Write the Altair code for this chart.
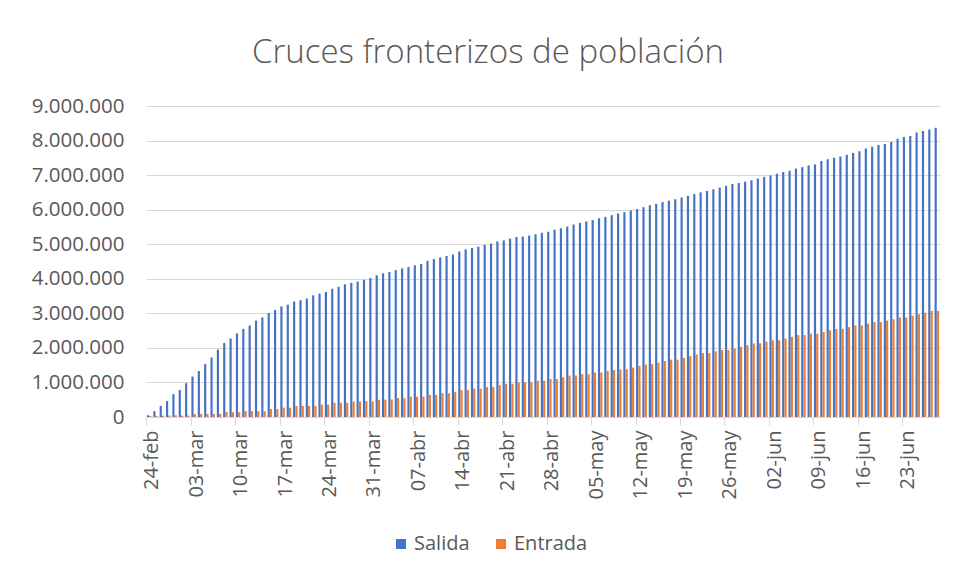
import altair as alt
import pandas as pd

# Categories: one per day, 24-feb to 28-jun (2022)
MESES = {2: "feb", 3: "mar", 4: "abr", 5: "may", 6: "jun"}
dias = [f"{d.day:02d}-{MESES[d.month]}" for d in pd.date_range("2022-02-24", "2022-06-28")]
etiquetas = dias[::7]

series = ["Salida", "Entrada"]
colores = ["#4472C4", "#ED7D31"]

# Cumulative values, millions
salida = [
    0.05, 0.17, 0.32, 0.46, 0.66, 0.78, 0.98, 1.17, 1.33, 1.53, 1.72, 1.95, 2.14, 2.27, 2.42, 2.55,
    2.65, 2.79, 2.88, 3.01, 3.10, 3.20, 3.25, 3.34, 3.38, 3.43, 3.52, 3.57, 3.62, 3.71, 3.77,
    3.84, 3.88, 3.92, 3.97, 4.02, 4.10, 4.16, 4.20, 4.25, 4.30, 4.34, 4.39, 4.43, 4.52, 4.57,
    4.62, 4.66, 4.70, 4.79, 4.85, 4.89, 4.93, 4.98, 5.02, 5.08, 5.11, 5.16, 5.21, 5.22, 5.25,
    5.29, 5.33, 5.36, 5.42, 5.46, 5.51, 5.57, 5.62, 5.66, 5.70, 5.75, 5.79, 5.84, 5.89, 5.93,
    5.98, 6.02, 6.07, 6.13, 6.17, 6.22, 6.26, 6.30, 6.35, 6.40, 6.45, 6.50, 6.54, 6.59, 6.64,
    6.69, 6.74, 6.77,
    6.81, 6.85, 6.90, 6.95, 6.99, 7.04, 7.09, 7.13, 7.19, 7.23, 7.28, 7.31, 7.41, 7.46, 7.50,
    7.54, 7.59, 7.64, 7.69, 7.77, 7.82, 7.87, 7.90, 7.96, 8.05, 8.10, 8.13, 8.23, 8.28, 8.32, 8.37,
]
entrada = [
    0.03, 0.03, 0.04, 0.04, 0.05, 0.04, 0.04, 0.09, 0.09, 0.09, 0.09, 0.09, 0.14, 0.14, 0.14, 0.17,
    0.17, 0.17, 0.17, 0.23, 0.23, 0.27, 0.27, 0.32, 0.32, 0.32, 0.32, 0.36, 0.36, 0.41, 0.41, 0.41,
    0.45, 0.45, 0.46, 0.45, 0.50, 0.50, 0.51, 0.55,
    0.54, 0.59, 0.59, 0.59, 0.64, 0.64, 0.69, 0.69, 0.73, 0.78, 0.78, 0.82, 0.82, 0.87, 0.87, 0.92,
    0.96, 0.96, 1.00, 1.00, 1.00, 1.05, 1.05, 1.10, 1.10, 1.15, 1.20, 1.20, 1.24, 1.24, 1.29, 1.29,
    1.33, 1.36, 1.38, 1.38, 1.43, 1.48, 1.52, 1.53, 1.57,
    1.62, 1.66, 1.66, 1.71, 1.76, 1.81, 1.85, 1.85, 1.90, 1.94, 1.94, 1.98, 2.03, 2.08, 2.13, 2.13,
    2.18, 2.22, 2.22, 2.27, 2.32, 2.37, 2.37, 2.41, 2.41, 2.46, 2.51, 2.55, 2.55, 2.60, 2.65, 2.65,
    2.70, 2.75, 2.75, 2.79, 2.83, 2.88, 2.88, 2.93, 2.97, 3.02, 3.07, 3.07,
]

n = len(dias)
df = pd.DataFrame({
    "dia": dias * 2,
    "serie": ["Salida"] * n + ["Entrada"] * n,
    "valor": [round(v * 1e6) for v in salida] + [round(v * 1e6) for v in entrada],
})

FONT = "Open Sans"
GRAY = "#595959"
LINE = "#D9D9D9"

chart = alt.Chart(df).mark_bar().encode(
    x=alt.X(
        "dia:N", sort=dias, title=None,
        scale=alt.Scale(paddingInner=0.3, paddingOuter=0.15),
        axis=alt.Axis(
            values=etiquetas, labelAngle=270, bandPosition=0, labelOffset=3,
            tickSize=8, tickColor=LINE, domainColor=LINE, labelColor=GRAY,
            labelFontSize=20, labelFont=FONT, labelPadding=5, grid=False,
        ),
    ),
    xOffset=alt.XOffset("serie:N", sort=series, scale=alt.Scale(paddingInner=0.05)),
    y=alt.Y(
        "valor:Q", title=None, scale=alt.Scale(domain=[0, 9000000]),
        axis=alt.Axis(
            values=list(range(0, 9000001, 1000000)),
            labelExpr="replace(format(datum.value, ',d'), regexp(',', 'g'), '.')",
            grid=True, gridColor=LINE, domain=False, ticks=False,
            labelColor=GRAY, labelFontSize=20.5, labelFont=FONT, labelPadding=22,
        ),
    ),
    color=alt.Color(
        "serie:N", sort=series,
        scale=alt.Scale(domain=series, range=colores),
        legend=alt.Legend(
            orient="none", direction="horizontal", legendX=245, legendY=428,
            title=None, symbolType="square", symbolSize=100, symbolStrokeWidth=0,
            labelFontSize=20, labelFont=FONT, labelColor=GRAY, columnPadding=21,
            labelOffset=3,
        ),
    ),
).properties(
    width=794, height=311,
    title=alt.TitleParams(
        "Cruces fronterizos de población", fontSize=33, font=FONT, fontWeight=300,
        color=GRAY, dx=-55, offset=26,
    ),
    autosize=alt.AutoSizeParams(type="none"),
    padding={"left": 138, "top": 98, "right": 12, "bottom": 155},
).configure_view(stroke=None)

chart.save("out.html", embed_options={"renderer": "svg", "actions": False})
